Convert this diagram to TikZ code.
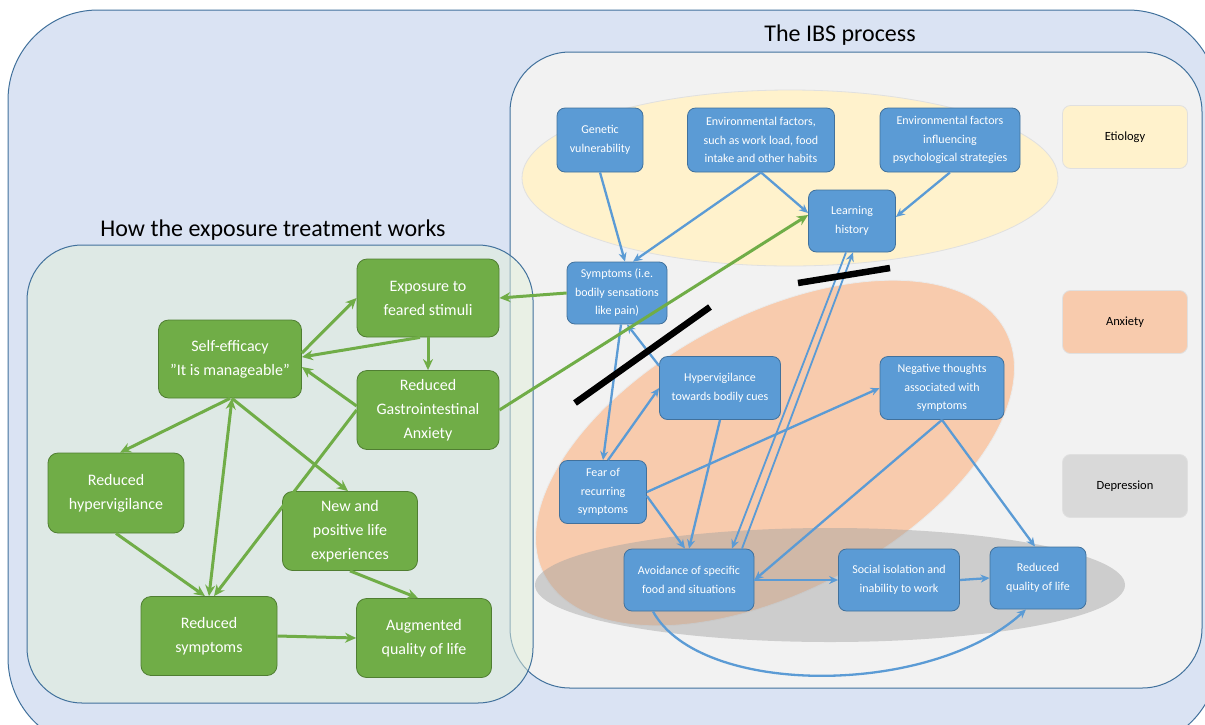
\documentclass[tikz,border=0pt]{standalone}
\usepackage{fontspec}
\setmainfont{Carlito}
\usetikzlibrary{arrows.meta,calc}
\definecolor{bgblue}{HTML}{DAE3F3}
\definecolor{edgeblue}{HTML}{41719C}
\definecolor{nodeblue}{HTML}{5B9BD5}
\definecolor{nodegreen}{HTML}{70AD47}
\definecolor{edgegreen}{HTML}{507E32}
\definecolor{ibsgray}{HTML}{F2F2F2}
\definecolor{etyellow}{HTML}{FFF2CC}
\definecolor{anxorange}{HTML}{F8CBAD}
\definecolor{depgray}{HTML}{D9D9D9}
\definecolor{treatgreen}{HTML}{E2EFD9}
\begin{document}
\begin{tikzpicture}[x=1pt,y=-1pt,
 bnode/.style={draw=edgeblue, fill=nodeblue, rounded corners=8pt, text=white, align=center,
   font=\fontsize{12}{18.5}\selectfont, line width=0.8pt, inner sep=1pt},
 gnode/.style={draw=edgegreen, fill=nodegreen, rounded corners=10pt, text=white, align=center,
   font=\fontsize{16}{24}\selectfont, line width=0.8pt, inner sep=1pt},
 legendbox/.style={draw=black!12, line width=0.8pt, rounded corners=8pt, font=\fontsize{12.5}{14}\selectfont,
   minimum width=125pt, minimum height=63pt},
 barr/.style={draw=nodeblue, line width=2.3pt, -{Stealth[length=9pt,width=8pt]}},
 garr/.style={draw=nodegreen, line width=3pt, -{Stealth[length=11pt,width=10pt]}},
 cutbar/.style={line width=6.5pt, draw=black},
 titlefont/.style={font=\fontsize{24}{28}\selectfont}
]
\useasboundingbox (0,0) rectangle (1205,724);
\begin{scope}
\clip (0,0) rectangle (1205,724);
% outer background
\draw[fill=bgblue, draw=edgeblue, line width=1pt, rounded corners=90pt] (8,10) rectangle (1218,748);
% IBS box
\draw[fill=ibsgray, draw=edgeblue, line width=1pt, rounded corners=60pt] (510,52) rectangle (1202,688);
% ellipses
\draw[fill=etyellow, draw=black!12, line width=0.8pt] (790,178) ellipse [x radius=268pt, y radius=88pt];
\draw[fill=anxorange, draw=black!8, line width=0.8pt, rotate around={28:(775,453)}] (775,453) ellipse [x radius=261pt, y radius=138pt];
\fill[black!37, fill opacity=0.45] (830,585) ellipse [x radius=295pt, y radius=57pt];
% treatment box
\draw[fill=treatgreen, fill opacity=0.5, draw=edgeblue, line width=1pt, rounded corners=55pt] (27,245) rectangle (533,703);
\end{scope}

% titles
\node[titlefont] (ibstitle) at (840,35) {The IBS process};
\node[titlefont] (trtitle) at (273,230) {How the exposure treatment works};

% legend
\node[legendbox, fill=etyellow] (leg1) at (1125,137) {Etiology};
\node[legendbox, fill=anxorange] (leg2) at (1125,322) {Anxiety};
\node[legendbox, fill=depgray] (leg3) at (1125,486) {Depression};

% blue nodes
\node[bnode, minimum width=86pt, minimum height=64pt] (gen) at (600,140) {Genetic\\vulnerability};
\node[bnode, minimum width=147pt, minimum height=64pt] (env) at (761,140) {Environmental factors,\\such as work load, food\\intake and other habits};
\node[bnode, minimum width=140pt, minimum height=64pt] (envp) at (950,140) {Environmental factors\\influencing\\psychological strategies};
\node[bnode, minimum width=87pt, minimum height=62pt] (learn) at (852,221) {Learning\\history};
\node[bnode, minimum width=100pt, minimum height=62pt] (sym) at (617,293) {Symptoms (i.e.\\bodily sensations\\like pain)};
\node[bnode, minimum width=121pt, minimum height=63pt] (hyp) at (720,388) {Hypervigilance\\towards bodily cues};
\node[bnode, minimum width=124pt, minimum height=63pt] (neg) at (942,388) {Negative thoughts\\associated with\\symptoms};
\node[bnode, minimum width=87pt, minimum height=63pt] (fear) at (603,492) {Fear of\\recurring\\symptoms};
\node[bnode, minimum width=130pt, minimum height=62pt] (avoid) at (689,580) {Avoidance of specific\\food and situations};
\node[bnode, minimum width=121pt, minimum height=62pt] (social) at (899,580) {Social isolation and\\inability to work};
\node[bnode, minimum width=96pt, minimum height=62pt] (qol) at (1038,578) {Reduced\\quality of life};

% green nodes
\node[gnode, minimum width=142pt, minimum height=78pt] (exp) at (428,298) {Exposure to\\feared stimuli};
\node[gnode, minimum width=143pt, minimum height=78pt] (self) at (230,359) {Self-efficacy\\”It is manageable”};
\node[gnode, minimum width=142pt, minimum height=79pt] (gi) at (428,410) {Reduced\\Gastrointestinal\\Anxiety};
\node[gnode, minimum width=136pt, minimum height=80pt] (redhyp) at (116,493) {Reduced\\hypervigilance};
\node[gnode, minimum width=135pt, minimum height=79pt] (new) at (350,531) {New and\\positive life\\experiences};
\node[gnode, minimum width=136pt, minimum height=79pt] (redsym) at (209,636) {Reduced\\symptoms};
\node[gnode, minimum width=135pt, minimum height=79pt] (aug) at (424,638) {Augmented\\quality of life};

% blue arrows
\draw[barr] (gen.south) -- ([xshift=8pt]sym.north);
\draw[barr] (env.south) -- ([xshift=16pt]sym.north);
\draw[barr] (env.south) -- ([yshift=8pt]learn.west);
\draw[barr] (envp.south) -- ([yshift=4pt]learn.east);
\draw[barr] ([xshift=4pt]sym.south) -- (fear.north);
\draw[barr] (hyp.160) -- ([xshift=10pt]sym.south);
\draw[barr] ([xshift=5pt]fear.north) -- (hyp.west);
\draw[barr] (hyp.south) -- (avoid.north);
\draw[barr] (fear.east) -- (neg.west);
\draw[barr] ([yshift=-4pt]fear.east) -- ([xshift=-4pt]avoid.north);
\draw[barr, line width=1.8pt] ([xshift=-6pt]learn.south) -- ([xshift=43pt]avoid.north);
\draw[barr, line width=1.8pt] ([xshift=53pt]avoid.north) -- ([xshift=1pt]learn.south);
\draw[barr] (neg.south) -- (avoid.east);
\draw[barr] (neg.south) -- ([xshift=-3pt]qol.north);
\draw[barr] (avoid.east) -- (social.west);
\draw[barr] (social.east) -- (qol.west);
\draw[barr] ([xshift=-36pt]avoid.south) .. controls (700,697) and (930,697) .. ([xshift=-12pt]qol.south);

% green arrows
\draw[garr] (sym.west) -- (exp.east);
\draw[garr] (gi.east) -- ([yshift=6pt]learn.west);
\draw[garr] (exp.south) -- (gi.north);
\draw[garr] ([yshift=6pt]self.east) -- (exp.west);
\draw[garr] ([xshift=-8pt]exp.south) -- ([yshift=2pt]self.east);
\draw[garr] ([yshift=4pt]gi.west) -- ([yshift=-8pt]self.east);
\draw[garr] (gi.west) -- ([xshift=5pt]redsym.north);
\draw[garr] (self.south) -- ([xshift=4pt]redhyp.north);
\draw[garr, {Stealth[length=11pt,width=10pt]}-{Stealth[length=11pt,width=10pt]}] ([xshift=2pt]self.south) -- (redsym.north);
\draw[garr] ([xshift=2pt]self.south) -- ([xshift=-2pt]new.north);
\draw[garr] (redhyp.south) -- ([xshift=-4pt]redsym.north);
\draw[garr] (new.south) -- ([xshift=-6pt]aug.north);
\draw[garr] (redsym.east) -- (aug.west);

% black cut bars
\coordinate (b1a) at (575,403);
\coordinate (b1b) at (710,307);
\coordinate (b2a) at (798,283);
\coordinate (b2b) at (890,268);
\draw[cutbar] (b1a) -- (b1b);
\draw[cutbar] (b2a) -- (b2b);
\end{tikzpicture}
\end{document}
